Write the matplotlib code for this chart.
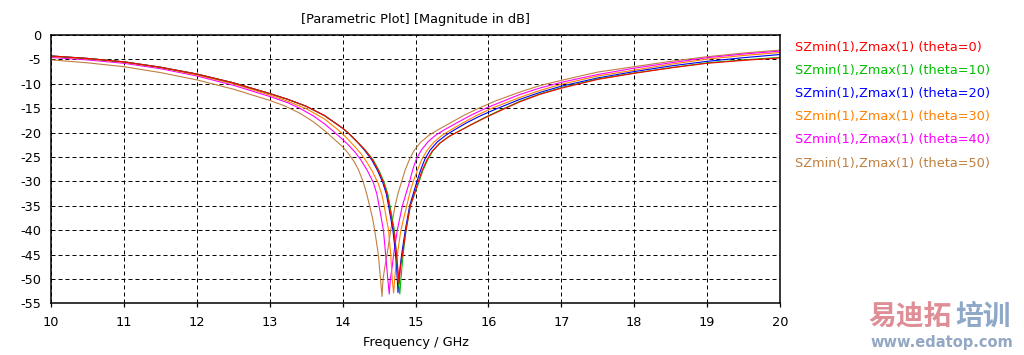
import matplotlib
matplotlib.use("Agg")
import matplotlib.pyplot as plt

# ---------------- data ----------------
f_red = [10, 10.5, 11, 11.5, 12, 12.5, 13, 13.25, 13.5, 13.75, 14.0, 14.1, 14.2, 14.31, 14.41,
         14.49, 14.56, 14.61, 14.64, 14.70, 14.74, 14.765, 14.775, 14.79, 14.82, 14.87, 14.93,
         15.04, 15.09, 15.16, 15.23, 15.33, 15.46, 15.6, 15.75, 15.95, 16.15, 16.43, 16.7,
         17, 17.5, 18, 18.5, 19, 19.5, 20]
db_red = [-4.3, -4.8, -5.5, -6.6, -8.0, -9.8, -12.0, -13.2, -14.6, -16.5, -19.1, -20.4, -21.9, -23.6, -25.6,
          -27.8, -30.2, -32.6, -35, -40, -45, -49, -51.0, -48, -45, -40, -35,
          -30, -27.8, -25.5, -23.8, -22.2, -20.8, -19.7, -18.5, -17.0, -15.6, -13.7, -12.2,
          -10.9, -9.1, -7.85, -6.75, -5.8, -5.2, -4.7]

f_green = [10, 10.5, 11, 11.5, 12, 12.5, 13, 13.25, 13.5, 13.75, 14.0, 14.1, 14.2, 14.31, 14.42,
           14.50, 14.57, 14.62, 14.65, 14.71, 14.74, 14.76, 14.785, 14.80, 14.83, 14.87, 14.93,
           15.05, 15.1, 15.17, 15.24, 15.34, 15.47, 15.61, 15.76, 15.95, 16.15, 16.43, 16.7,
           17, 17.5, 18, 18.5, 19, 19.5, 20]
db_green = [-4.3, -4.8, -5.5, -6.6, -8.0, -9.8, -12.0, -13.2, -14.6, -16.5, -19.1, -20.4, -21.9, -23.6, -25.6,
            -27.8, -30.2, -32.6, -35, -40, -45, -50, -53.1, -50, -45, -40, -35,
            -30, -27.8, -25.5, -23.7, -22.1, -20.7, -19.6, -18.4, -16.9, -15.5, -13.6, -12.1,
            -10.8, -9.0, -7.8, -6.7, -5.7, -5.1, -4.6]

f_blue = [10, 10.5, 11, 11.5, 12, 12.5, 13, 13.25, 13.5, 13.75, 14.0, 14.1, 14.2, 14.3, 14.40,
          14.48, 14.55, 14.60, 14.63, 14.66, 14.69, 14.72, 14.74, 14.75, 14.76,
          14.775, 14.79, 14.81, 14.835, 14.86, 14.89, 14.92, 14.97, 15.02, 15.07, 15.13,
          15.2, 15.3, 15.42, 15.54, 15.7, 15.9, 16.1, 16.43, 16.7, 17, 17.5, 18, 18.5, 19, 19.5, 20]
db_blue = [-4.3, -4.8, -5.5, -6.6, -8.0, -9.8, -12.0, -13.2, -14.6, -16.5, -19.1, -20.4, -21.9, -23.6, -25.6,
           -27.8, -30.2, -32.6, -35, -37.5, -40, -44, -47.5, -50, -52.8,
           -50, -47.5, -45, -42.5, -40, -37.5, -35, -32.5, -30, -27.7, -25.4,
           -23.6, -21.9, -20.5, -19.4, -18.0, -16.5, -15.2, -13.2, -11.8, -10.5, -8.8, -7.5, -6.35, -5.4, -4.65, -4.0]

f_orange = [10, 10.5, 11, 11.5, 12, 12.5, 13, 13.25, 13.5, 13.75, 13.95, 14.05, 14.15, 14.25, 14.33,
            14.41, 14.49, 14.54, 14.57, 14.60, 14.63, 14.66, 14.68, 14.70,
            14.715, 14.73, 14.75, 14.775, 14.80, 14.84, 14.88, 14.92, 14.97, 15.03, 15.09,
            15.16, 15.25, 15.36, 15.48, 15.64, 15.85, 16.05, 16.43, 16.7, 17, 17.5, 18, 18.5, 19, 19.5, 20]
db_orange = [-4.4, -4.9, -5.6, -6.7, -8.2, -10.0, -12.3, -13.6, -15.1, -17.2, -19.6, -21.0, -22.6, -24.3, -26.0,
             -28.0, -30.5, -32.8, -35, -37.5, -40, -45, -50, -52.9,
             -50, -47.5, -45, -42.5, -40, -37.5, -35, -32.5, -30, -27.6, -25.4,
             -23.6, -22.0, -20.6, -19.5, -18.1, -16.4, -15.0, -12.8, -11.4, -10.1, -8.4, -7.2, -6.0, -4.95, -4.2, -3.6]

f_magenta = [10, 10.5, 11, 11.5, 12, 12.5, 13, 13.25, 13.41, 13.6, 13.75, 13.87, 13.97, 14.07, 14.17, 14.25,
             14.34, 14.42, 14.47, 14.50, 14.53, 14.56, 14.59, 14.62, 14.64,
             14.655, 14.68, 14.70, 14.725, 14.75, 14.785, 14.82, 14.87, 14.92, 14.96, 15.01,
             15.08, 15.17, 15.28, 15.4, 15.58, 15.78, 15.98, 16.43, 16.7, 17, 17.5, 18, 18.5, 19, 19.5, 20]
db_magenta = [-4.6, -5.1, -5.8, -6.9, -8.4, -10.3, -12.6, -13.9, -15.0, -16.6, -18.2, -19.7, -21.0, -22.4, -24.0, -25.6,
              -27.8, -30.2, -32.6, -35, -37.5, -40, -45, -50, -53.1,
              -50, -47.5, -45, -42.5, -40, -37.5, -35, -32.5, -30, -27.7, -25.5,
              -23.6, -21.9, -20.5, -19.4, -17.9, -16.3, -14.9, -12.2, -10.9, -9.7, -8.1, -6.8, -5.7, -4.65, -3.9, -3.3]

f_brown = [10, 10.5, 11, 11.5, 12, 12.5, 13, 13.2, 13.41, 13.6, 13.76, 13.88, 14.0, 14.08, 14.16,
           14.22, 14.28, 14.33, 14.37, 14.41, 14.44, 14.49, 14.52, 14.54,
           14.555, 14.58, 14.61, 14.635, 14.66, 14.69, 14.72, 14.76, 14.81, 14.86, 14.92,
           14.98, 15.07, 15.18, 15.3, 15.48, 15.66, 15.84, 16.1, 16.43, 16.7, 17, 17.5, 18, 18.5, 19, 19.5, 20]
db_brown = [-5.1, -5.7, -6.5, -7.7, -9.2, -11.1, -13.4, -14.5, -16.0, -17.8, -19.7, -21.3, -22.9, -24.3, -26.0,
            -27.7, -30, -32.5, -35, -37.5, -40, -45, -50, -53.6,
            -50, -47.5, -45, -42.5, -40, -37.5, -35, -32.5, -30, -27.6, -25.4,
            -23.7, -22.0, -20.6, -19.5, -18.0, -16.5, -15.2, -13.5, -11.7, -10.4, -9.3, -7.6, -6.5, -5.4, -4.45, -3.7, -3.1]

series_labels = ["SZmin(1),Zmax(1) (theta=0)", "SZmin(1),Zmax(1) (theta=10)",
                 "SZmin(1),Zmax(1) (theta=20)", "SZmin(1),Zmax(1) (theta=30)",
                 "SZmin(1),Zmax(1) (theta=40)", "SZmin(1),Zmax(1) (theta=50)"]
series_colors = ["#ff0000", "#00c000", "#0000ff", "#ff8000", "#ff00ff", "#c08040"]

x_ticks = [10, 11, 12, 13, 14, 15, 16, 17, 18, 19, 20]
y_ticks = [0, -5, -10, -15, -20, -25, -30, -35, -40, -45, -50, -55]

title_text = "[Parametric Plot] [Magnitude in dB]"
xlabel_text = "Frequency / GHz"

# ---------------- figure ----------------
plt.rcParams['font.family'] = ['DejaVu Sans']
fig = plt.figure(figsize=(10.24, 3.55), dpi=100)
ax = fig.add_axes([51 / 1024, 1 - 303.3 / 355, (780 - 51) / 1024, (303.3 - 35) / 355])

series = [(f_red, db_red), (f_green, db_green), (f_blue, db_blue),
          (f_orange, db_orange), (f_magenta, db_magenta), (f_brown, db_brown)]
for (fx, dy), c in reversed(list(zip(series, series_colors))):
    ax.plot(fx, dy, color=c, lw=0.8, solid_joinstyle='round')

ax.set_xlim(10, 20)
ax.set_ylim(-55, 0)
ax.set_xticks(x_ticks)
ax.set_yticks(y_ticks)
ax.set_xticklabels([str(v) for v in x_ticks], fontsize=9.3)
ax.set_yticklabels([str(v) for v in y_ticks], fontsize=9.3)
ax.tick_params(axis='x', direction='out', length=3, width=0.9, pad=6)
ax.tick_params(axis='y', length=0, pad=7)
ax.grid(True, color='black', linestyle=(0, (4, 3)), linewidth=0.72)
for sp in ax.spines.values():
    sp.set_linewidth(1.1)
    sp.set_color('black')

ax.set_title(title_text, fontsize=9.3, pad=9)
ax.set_xlabel(xlabel_text, fontsize=9.3, labelpad=5)

# legend as coloured text lines
for i, (lab, c) in enumerate(zip(series_labels, series_colors)):
    fig.text(795 / 1024, 1 - (47 + i * 23.2) / 355, lab, color=c, fontsize=9.3,
             ha='left', va='center')

# watermark
cjk = ['Noto Sans CJK SC', 'DejaVu Sans']
fig.text(868 / 1024, 1 - 317 / 355, "易迪拓", family=cjk, fontsize=20, fontweight='bold',
         color='#de8e94', ha='left', va='center')
fig.text(955 / 1024, 1 - 317 / 355, "培训", family=cjk, fontsize=20, fontweight='bold',
         color='#8ea8c8', ha='left', va='center')
fig.text(870 / 1024, 1 - 343 / 355, "www.edatop.com", fontsize=10.5, fontweight='bold',
         color='#93a8c4', ha='left', va='center')

fig.savefig("out.png", dpi=100)
